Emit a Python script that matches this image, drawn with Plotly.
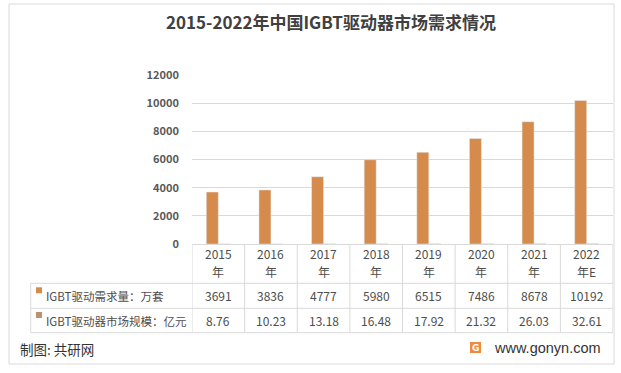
import plotly.graph_objects as go

# ---- data ----
years = ["2015", "2016", "2017", "2018", "2019", "2020", "2021", "2022"]
year_suffix = ["年", "年", "年", "年", "年", "年", "年", "年E"]
demand = [3691, 3836, 4777, 5980, 6515, 7486, 8678, 10192]          # 万套
market = [8.76, 10.23, 13.18, 16.48, 17.92, 21.32, 26.03, 32.61]    # 亿元
series_names = ["IGBT驱动需求量：万套", "IGBT驱动器市场规模：亿元"]
y_ticks = [0, 2000, 4000, 6000, 8000, 10000, 12000]
title_text = "2015-2022年中国IGBT驱动器市场需求情况"

# ---- layout geometry (pixels) ----
W, H = 621, 373
PL, PR, PT, PB = 192, 613, 75, 244
FONT = "Noto Sans CJK SC"
GRID = "#D9D9D9"
TXT = "#595959"
TBL = "#4D4D4D"
C1, C2 = "#D48B4C", "#BF8F6F"


def px_x(p):
    return (p - PL) / (PR - PL)


def px_y(p):
    return (PB - p) / (PB - PT)


fig = go.Figure()
fig.add_trace(go.Bar(x=years, y=demand, name=series_names[0], marker_color=C1))
fig.add_trace(go.Bar(x=years, y=market, name=series_names[1], marker_color=C2))

shapes = []
annotations = []

# outer frame
shapes.append(dict(type="rect", xref="paper", yref="paper",
                   x0=px_x(9), x1=px_x(614), y0=px_y(364), y1=px_y(4),
                   line=dict(color=GRID, width=1), fillcolor="rgba(0,0,0,0)", layer="below"))

# table lines
row_tops = [244, 283.3, 308.3, 332.7]
for k in range(len(years) + 1):
    shapes.append(dict(type="line", xref="x", yref="paper",
                       x0=k - 0.5, x1=k - 0.5, y0=px_y(row_tops[-1]), y1=px_y(row_tops[0]),
                       line=dict(color=GRID, width=1)))
for r in row_tops[1:]:
    shapes.append(dict(type="line", xref="paper", yref="paper",
                       x0=px_x(30.7), x1=1, y0=px_y(r), y1=px_y(r),
                       line=dict(color=GRID, width=1)))
shapes.append(dict(type="line", xref="paper", yref="paper",
                   x0=px_x(30.7), x1=px_x(30.7), y0=px_y(row_tops[-1]), y1=px_y(row_tops[1]),
                   line=dict(color=GRID, width=1)))

# category labels (positions by category index on the category axis)
for i, yv in enumerate(years):
    annotations.append(dict(x=i, y=px_y(253.5), xref="x", yref="paper", text=yv,
                            showarrow=False, xanchor="center", yanchor="middle",
                            font=dict(family=FONT, size=12, color=TBL)))
    annotations.append(dict(x=i, y=px_y(271.7), xref="x", yref="paper", text=year_suffix[i],
                            showarrow=False, xanchor="center", yanchor="middle",
                            font=dict(family=FONT, size=12, color=TBL)))

# table rows
row_centres = [295.8, 320.5]
row_values = [[f"{v}" for v in demand], [f"{v:.2f}" for v in market]]
key_colors = [C1, C2]
for r in range(2):
    yc = row_centres[r]
    shapes.append(dict(type="rect", xref="paper", yref="paper",
                       x0=px_x(36), x1=px_x(42), y0=px_y(yc - 2.5), y1=px_y(yc - 8.5),
                       fillcolor=key_colors[r], line=dict(width=0)))
    annotations.append(dict(x=px_x(43.5), y=px_y(yc), xref="paper", yref="paper",
                            text=series_names[r], showarrow=False, xanchor="left", yanchor="middle",
                            font=dict(family=FONT, size=11.5, color=TBL)))
    for i in range(len(years)):
        annotations.append(dict(x=i, y=px_y(yc), xref="x", yref="paper", text=row_values[r][i],
                                showarrow=False, xanchor="center", yanchor="middle",
                                font=dict(family=FONT, size=12, color=TBL)))

# footer
annotations.append(dict(x=px_x(18), y=px_y(349), xref="paper", yref="paper",
                        text="制图: 共研网", showarrow=False, xanchor="left", yanchor="middle",
                        font=dict(family=FONT, size=13.5, color="#333333")))
shapes.append(dict(type="rect", xref="paper", yref="paper",
                   x0=px_x(470), x1=px_x(481), y0=px_y(353), y1=px_y(342),
                   fillcolor="#F08A3C", line=dict(width=0)))
annotations.append(dict(x=px_x(475.5), y=px_y(347.7), xref="paper", yref="paper",
                        text="<b>G</b>", showarrow=False, xanchor="center", yanchor="middle",
                        font=dict(family="DejaVu Sans", size=9, color="white")))
annotations.append(dict(x=px_x(491.5), y=px_y(348.3), xref="paper", yref="paper",
                        text="www.gonyn.com", showarrow=False, xanchor="left", yanchor="middle",
                        font=dict(family="Liberation Sans", size=14.5, color="#333333")))

fig.update_layout(
    width=W, height=H,
    margin=dict(l=PL, r=W - PR, t=PT, b=H - PB, pad=0),
    paper_bgcolor="white", plot_bgcolor="white",
    showlegend=False,
    barmode="group", bargap=0.544, bargroupgap=0,
    title=dict(text=title_text, x=331 / W, xanchor="center", y=1 - 23 / H, yanchor="middle",
               font=dict(family=FONT, size=17, color="#404040", weight="bold")),
    xaxis=dict(type="category", categoryorder="array", categoryarray=years,
               range=[-0.5, len(years) - 0.5], showticklabels=False, showgrid=False,
               showline=False, zeroline=False, ticks=""),
    yaxis=dict(range=[0, 12000], tickvals=y_ticks, ticktext=[str(v) for v in y_ticks],
               showgrid=True, gridcolor=GRID, gridwidth=1, zeroline=True, zerolinecolor=GRID,
               zerolinewidth=1, showline=False, ticks="", ticklabelstandoff=12,
               tickfont=dict(family=FONT, size=11, color=TXT, weight="bold")),
    shapes=shapes, annotations=annotations,
    font=dict(family=FONT, color=TXT),
)

fig.write_html("out.html", config={"displayModeBar": False},
               post_script="document.body.style.margin='0';document.body.style.padding='0';")
